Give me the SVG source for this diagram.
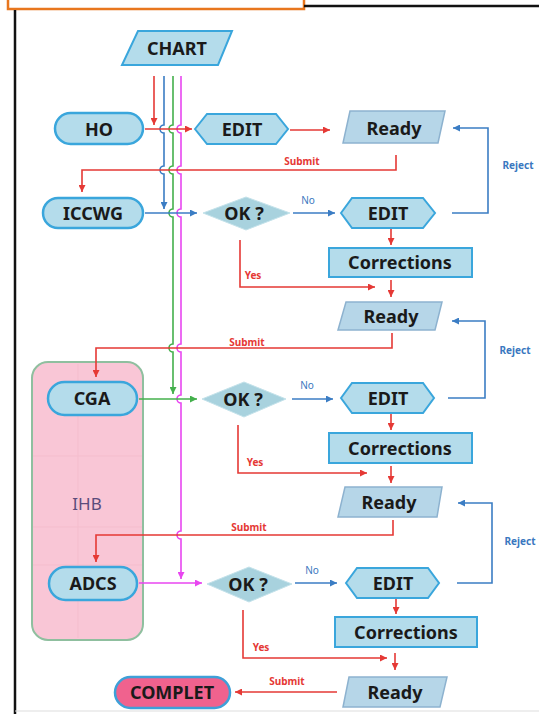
<svg xmlns="http://www.w3.org/2000/svg" width="539" height="714" viewBox="0 0 539 714">
<style>
.lbl{font-family:"Noto Sans","Liberation Sans",sans-serif;font-weight:bold;font-size:18px;fill:#1a1a1a;text-anchor:middle;dominant-baseline:central}
.pill{fill:#b4dceb;stroke:#3aa6dc;stroke-width:2.5}
.box{fill:#b4dceb;stroke:#3aa6dc;stroke-width:2}
.rdy{fill:#b6d6e8;stroke:#8db2cf;stroke-width:1.5}
.dia{fill:#a8d2de;stroke:#c4e2ea;stroke-width:1}
.sm{font-family:"Noto Sans","Liberation Sans",sans-serif;font-size:10px;text-anchor:middle;dominant-baseline:central}
.sr{fill:#e53935;font-weight:bold}
.sb{fill:#3a78c0;font-weight:bold}
.sn{fill:#3a78c0}
.r{stroke:#e53935;stroke-width:1.6;fill:none}
.b{stroke:#3b7dc4;stroke-width:1.6;fill:none}
.g{stroke:#44b04c;stroke-width:1.6;fill:none}
.m{stroke:#e846f0;stroke-width:1.6;fill:none}
</style>
<defs>
<marker id="ar" viewBox="0 0 10 10" refX="10" refY="5" markerWidth="8" markerHeight="7" orient="auto" markerUnits="userSpaceOnUse"><path d="M0,0 L10,5 L0,10 z" fill="#e53935"/></marker>
<marker id="ab" viewBox="0 0 10 10" refX="10" refY="5" markerWidth="8" markerHeight="7" orient="auto" markerUnits="userSpaceOnUse"><path d="M0,0 L10,5 L0,10 z" fill="#3b7dc4"/></marker>
<marker id="ag" viewBox="0 0 10 10" refX="10" refY="5" markerWidth="8" markerHeight="7" orient="auto" markerUnits="userSpaceOnUse"><path d="M0,0 L10,5 L0,10 z" fill="#44b04c"/></marker>
<marker id="am" viewBox="0 0 10 10" refX="10" refY="5" markerWidth="8" markerHeight="7" orient="auto" markerUnits="userSpaceOnUse"><path d="M0,0 L10,5 L0,10 z" fill="#e846f0"/></marker>
</defs>
<rect width="539" height="714" fill="#ffffff"/>
<g id="frame">
<rect x="8" y="-3" width="296" height="12" fill="#ffffff" stroke="#e8761e" stroke-width="2.5"/>
<line x1="304" y1="6" x2="539" y2="6" stroke="#111" stroke-width="2.5"/>
<line x1="15" y1="10" x2="15" y2="714" stroke="#111" stroke-width="2.5"/>
<line x1="15" y1="711" x2="539" y2="711" stroke="#dddddd" stroke-width="1"/>
</g>
<g id="IHB">
<rect x="32" y="362" width="111" height="278" rx="16" fill="#f9c6d6" stroke="#8fbf9f" stroke-width="2"/>
<line x1="78" y1="364" x2="78" y2="638" stroke="#f4bdcd" stroke-width="1"/>
<line x1="33" y1="456" x2="142" y2="456" stroke="#f4bdcd" stroke-width="1"/>
<line x1="33" y1="527" x2="142" y2="527" stroke="#f4bdcd" stroke-width="1"/>
<line x1="33" y1="565" x2="142" y2="565" stroke="#f4bdcd" stroke-width="1"/>
<text x="87" y="503" font-family="Noto Sans, Liberation Sans, sans-serif" font-size="17" fill="#5b4b7b" text-anchor="middle" dominant-baseline="central">IHB</text>
</g>
<g id="connectors">
<path class="r" d="M154,76 V125" marker-end="url(#ar)"/>
<path class="b" d="M164,76 V125 A4,4 0 0 0 164,133 V166 A4,4 0 0 0 164,174 V209" marker-end="url(#ab)"/>
<path class="g" d="M173,76 V125 A4,4 0 0 0 173,133 V166 A4,4 0 0 0 173,174 V209 A4,4 0 0 0 173,217 V344 A4,4 0 0 0 173,352 V394" marker-end="url(#ag)"/>
<path class="m" d="M181,76 V125 A4,4 0 0 0 181,133 V166 A4,4 0 0 0 181,174 V209 A4,4 0 0 0 181,217 V344 A4,4 0 0 0 181,352 V395 A4,4 0 0 0 181,403 V531 A4,4 0 0 0 181,539 V579" marker-end="url(#am)"/>
<path class="r" d="M145,129 H192" marker-end="url(#ar)"/>
<path class="r" d="M290,130 H330" marker-end="url(#ar)"/>
<path class="r" d="M396,155 V170 H82 V192" marker-end="url(#ar)"/>
<path class="b" d="M145,213 H197" marker-end="url(#ab)"/>
<path class="b" d="M293,213 H335" marker-end="url(#ab)"/>
<path class="b" d="M452,213 H488 V128 H453" marker-end="url(#ab)"/>
<path class="r" d="M391,229 V245" marker-end="url(#ar)"/>
<path class="r" d="M240,240 V287 H375" marker-end="url(#ar)"/>
<path class="r" d="M391,280 V297" marker-end="url(#ar)"/>
<path class="r" d="M392,333 V348 H96 V377" marker-end="url(#ar)"/>
<path class="g" d="M139,399 H197" marker-end="url(#ag)"/>
<path class="b" d="M292,399 H333" marker-end="url(#ab)"/>
<path class="b" d="M448,398 H485 V321 H452" marker-end="url(#ab)"/>
<path class="r" d="M391,414 V430" marker-end="url(#ar)"/>
<path class="r" d="M238,425 V473 H367" marker-end="url(#ar)"/>
<path class="r" d="M391,466 V483" marker-end="url(#ar)"/>
<path class="r" d="M393,520 V535 H96 V562" marker-end="url(#ar)"/>
<path class="m" d="M139,583 H202" marker-end="url(#am)"/>
<path class="b" d="M295,583 H337" marker-end="url(#ab)"/>
<path class="b" d="M457,583 H492 V503 H458" marker-end="url(#ab)"/>
<path class="r" d="M396,599 V614" marker-end="url(#ar)"/>
<path class="r" d="M243,610 V658 H387" marker-end="url(#ar)"/>
<path class="r" d="M395,653 V670" marker-end="url(#ar)"/>
<path class="r" d="M337,692 H235" marker-end="url(#ar)"/>
<text class="sm sr" x="302" y="161">Submit</text>
<text class="sm sr" x="247" y="342">Submit</text>
<text class="sm sr" x="249" y="527">Submit</text>
<text class="sm sr" x="287" y="681">Submit</text>
<text class="sm sb" x="518" y="165">Reject</text>
<text class="sm sb" x="515" y="350">Reject</text>
<text class="sm sb" x="520" y="541">Reject</text>
<text class="sm sn" x="308" y="200">No</text>
<text class="sm sn" x="307" y="385">No</text>
<text class="sm sn" x="312" y="570">No</text>
<text class="sm sr" x="253" y="275">Yes</text>
<text class="sm sr" x="255" y="462">Yes</text>
<text class="sm sr" x="261" y="647">Yes</text>
</g>
<g id="CHART"><polygon class="box" points="138,31 232,31 218,65 122,65"/><text class="lbl" x="177" y="48">CHART</text></g>
<g id="HO"><rect class="pill" x="55" y="113" width="88" height="31" rx="15.5"/><text class="lbl" x="99" y="129">HO</text></g>
<g id="EDIT1"><polygon class="box" points="195,129 207,114 276,114 288,129 276,144 207,144"/><text class="lbl" x="242" y="129">EDIT</text></g>
<g id="Ready1"><polygon class="rdy" points="350,111 445,111 438,143 343,143"/><text class="lbl" x="394" y="128">Ready</text></g>
<g id="ICCWG"><rect class="pill" x="43" y="198" width="100" height="30" rx="15"/><text class="lbl" x="93" y="213">ICCWG</text></g>
<g id="OK1"><polygon class="dia" points="203,213 246,197 290,213 246,230"/><text class="lbl" x="244" y="213">OK ?</text></g>
<g id="EDIT2"><polygon class="box" points="341,213 352,198 423,198 435,213 423,228 352,228"/><text class="lbl" x="388" y="213">EDIT</text></g>
<g id="Corrections1"><rect class="box" x="329" y="248" width="143" height="29"/><text class="lbl" x="400" y="262">Corrections</text></g>
<g id="Ready2"><polygon class="rdy" points="346,302 442,302 435,330 338,330"/><text class="lbl" x="391" y="316">Ready</text></g>
<g id="CGA"><rect class="pill" x="48" y="382" width="89" height="33" rx="16.5"/><text class="lbl" x="92" y="398">CGA</text></g>
<g id="OK2"><polygon class="dia" points="202,399 244,382 286,399 244,417"/><text class="lbl" x="243" y="399">OK ?</text></g>
<g id="EDIT3"><polygon class="box" points="341,398 352,383 423,383 434,398 423,413 352,413"/><text class="lbl" x="388" y="398">EDIT</text></g>
<g id="Corrections2"><rect class="box" x="329" y="433" width="143" height="30"/><text class="lbl" x="400" y="448">Corrections</text></g>
<g id="Ready3"><polygon class="rdy" points="345,487 442,487 437,517 338,517"/><text class="lbl" x="389" y="502">Ready</text></g>
<g id="ADCS"><rect class="pill" x="49" y="567" width="88" height="33" rx="16.5"/><text class="lbl" x="93" y="583">ADCS</text></g>
<g id="OK3"><polygon class="dia" points="207,584 249,567 292,584 249,602"/><text class="lbl" x="248" y="584">OK ?</text></g>
<g id="EDIT4"><polygon class="box" points="346,583 357,568 428,568 439,583 428,598 357,598"/><text class="lbl" x="393" y="583">EDIT</text></g>
<g id="Corrections3"><rect class="box" x="335" y="617" width="142" height="30"/><text class="lbl" x="406" y="632">Corrections</text></g>
<g id="Ready4"><polygon class="rdy" points="349,677 447,677 440,707 343,707"/><text class="lbl" x="395" y="692">Ready</text></g>
<g id="COMPLET"><rect x="115" y="677" width="115" height="31" rx="15.5" fill="#f0628e" stroke="#3ea0d8" stroke-width="2.5"/><text class="lbl" x="172" y="692">COMPLET</text></g>
</svg>
